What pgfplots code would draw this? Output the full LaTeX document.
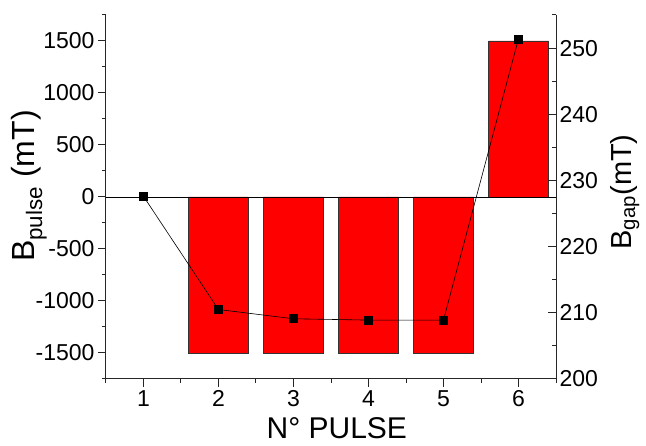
\documentclass[border=0pt]{standalone}
\usepackage{pgfplots}
\pgfplotsset{compat=1.18}
\usepackage{fontspec}
\setmainfont{Liberation Sans}
\begin{document}
\begin{tikzpicture}
\pgfplotsset{every axis/.append style={
  scale only axis, width=450pt, height=364pt,
  xmin=0.5, xmax=6.5,
  /pgf/number format/assume math mode=true,
  /pgf/number format/1000 sep={},
  tick label style={font=\fontsize{23}{27}\selectfont},
  label style={font=\fontsize{32}{38}\selectfont},
  axis line style={line width=1pt, black!85},
  major tick length=8pt, minor tick length=4pt,
  every tick/.style={black!85, line width=1pt},
}}
\begin{axis}[
  axis y line*=left, axis x line*=bottom,
  ymin=-1750, ymax=1750,
  ytick={-1500,-1000,...,1500}, minor ytick={-1750,-1250,...,1750},
  xtick={1,2,3,4,5,6}, minor xtick={0.5,1.5,...,6.5},
  tick align=outside,
  ylabel={B\textsubscript{pulse} (mT)},
  ylabel style={at={(axis description cs:-0.171,0.53)}, anchor=center},
  xlabel={N° PULSE},
  xlabel style={at={(axis description cs:0.513,-0.136)}, anchor=center, inner sep=1pt, font=\fontsize{30}{36}\selectfont},
]
\addplot[ybar, bar width=0.8, fill=red, draw=black!80, line width=0.6pt]
  coordinates {(2,-1500) (3,-1500) (4,-1500) (5,-1500) (6,1500)};
\addplot[black, line width=0.8pt, no marks] coordinates {(0.5,0) (6.5,0)};
\end{axis}
\begin{axis}[
  axis y line*=right, axis x line=none,
  ymin=200, ymax=255,
  ytick={200,210,...,250}, minor ytick={205,215,...,255},
  tick align=inside,
  ylabel={B\textsubscript{gap}(mT)},
  ylabel style={at={(axis description cs:1.153,0.514)}, anchor=center, font=\fontsize{29}{34}\selectfont},
]
\addplot[black, line width=0.6pt, mark=square*, mark size=4pt,
  mark options={fill=black}]
  coordinates {(1,227.6) (2,210.5) (3,209.1) (4,208.9) (5,208.9) (6,251.4)};
\end{axis}
\pgfresetboundingbox
\path[use as bounding box] (-106pt,-67pt) rectangle (540pt,379pt);
\end{tikzpicture}
\end{document}
